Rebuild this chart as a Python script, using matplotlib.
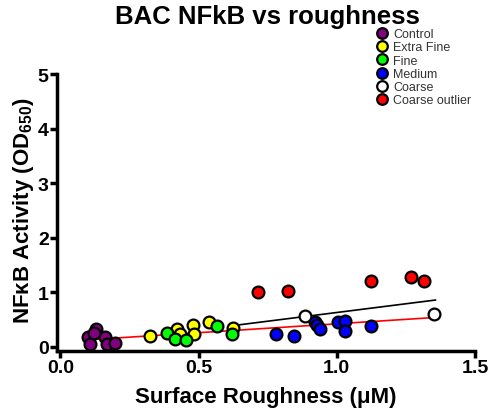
import matplotlib.pyplot as plt
import numpy as np

plt.rcParams['font.family'] = ['Liberation Sans', 'DejaVu Sans']
plt.rcParams['mathtext.default'] = 'regular'

# Data
control_x = [0.10, 0.13, 0.107, 0.16, 0.167, 0.197, 0.12]
control_y = [0.18, 0.33, 0.055, 0.18, 0.055, 0.07, 0.25]

xfine_x = [0.323, 0.42, 0.434, 0.48, 0.484, 0.538, 0.625]
xfine_y = [0.21, 0.33, 0.23, 0.40, 0.24, 0.45, 0.34]

fine_x = [0.386, 0.414, 0.456, 0.565, 0.619]
fine_y = [0.26, 0.15, 0.13, 0.38, 0.24]

medium_x = [0.779, 0.844, 0.92, 0.93, 0.94, 1.004, 1.03, 1.03, 1.125]
medium_y = [0.24, 0.21, 0.46, 0.40, 0.33, 0.45, 0.48, 0.30, 0.39]

coarse_x = [0.884, 1.353]
coarse_y = [0.56, 0.60]

outlier_x = [0.715, 0.823, 1.125, 1.27, 1.317]
outlier_y = [1.00, 1.03, 1.21, 1.28, 1.20]

# linear fits (slope, intercept, x range)
red_fit = (0.326, 0.099, 0.095, 1.353)
black_fit = (0.639, -0.007, 0.637, 1.357)

fig = plt.figure(figsize=(4.9, 4.1), dpi=100)
ax = fig.add_axes([0.1163, 0.1415, 0.853, 0.6755])

groups = [
    ('Control', control_x, control_y, '#800080'),
    ('Extra Fine', xfine_x, xfine_y, '#ffff00'),
    ('Fine', fine_x, fine_y, '#00ff00'),
    ('Medium', medium_x, medium_y, '#0000ff'),
    ('Coarse', coarse_x, coarse_y, 'white'),
    ('Coarse outlier', outlier_x, outlier_y, '#ff0000'),
]

for name, xs, ys, col in groups:
    ax.plot(xs, ys, 'o', color=col, markeredgecolor='black', markersize=8.5,
            markeredgewidth=1.6, label=name, zorder=3)

for (m, b, x0, x1), col in [(red_fit, 'red'), (black_fit, 'black')]:
    fx = np.array([x0, x1])
    ax.plot(fx, m * fx + b, color=col, linewidth=1.2, zorder=2)

ax.set_xlim(-0.0126, 1.5)
ax.set_ylim(-0.073, 5)
ax.set_xticks([0.0, 0.5, 1.0, 1.5])
ax.set_xticklabels(['0.0', '0.5', '1.0', '1.5'])
ax.set_yticks([0, 1, 2, 3, 4, 5])

for s in ['top', 'right']:
    ax.spines[s].set_visible(False)
for s in ['left', 'bottom']:
    ax.spines[s].set_linewidth(2.5)
ax.tick_params(width=2.5, length=5, labelsize=14, pad=1)
for lab in ax.get_xticklabels() + ax.get_yticklabels():
    lab.set_fontweight('bold')

ax.set_xlabel('Surface Roughness (\u03bcM)', fontsize=16, fontweight='bold', va='center')
ax.xaxis.set_label_coords(0.5, -0.165)
ax.set_ylabel('NF\u03baB Activity (OD$_{650}$)', fontsize=16, fontweight='bold', va='center')
ax.yaxis.set_label_coords(-0.079, 0.51)

fig.text(0.545, 0.959, 'BAC NFkB vs roughness', ha='center', va='center',
         fontsize=18.5, fontweight='bold')

leg = fig.legend(loc='upper left', bbox_to_anchor=(0.755, 0.944), frameon=False,
                 fontsize=9, handletextpad=0.35, labelspacing=0.1, borderpad=0,
                 handlelength=1.0, markerscale=0.9)
for t in leg.get_texts():
    t.set_color('#333333')

plt.savefig('out.png', dpi=100)
plt.close()
